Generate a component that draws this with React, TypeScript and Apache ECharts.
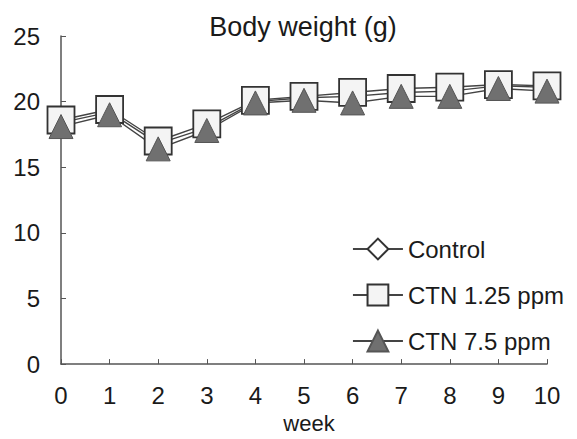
import React, { useEffect, useRef } from "react";
import * as echarts from "echarts";

const weeks = [0, 1, 2, 3, 4, 5, 6, 7, 8, 9, 10];
const control = [18.4, 19.2, 16.8, 18.0, 20.0, 20.3, 20.4, 20.7, 20.8, 21.2, 21.1];
const ctn125 = [18.6, 19.4, 17.0, 18.3, 20.1, 20.4, 20.7, 21.0, 21.1, 21.3, 21.2];
const ctn75 = [18.1, 19.0, 16.4, 17.8, 19.9, 20.1, 19.9, 20.4, 20.4, 21.0, 20.8];
const seriesNames = ["Control", "CTN 1.25 ppm", "CTN 7.5 ppm"];

export default function App() {
  const ref = useRef<HTMLDivElement>(null);
  useEffect(() => {
    const chart = echarts.init(ref.current!, null, { renderer: "svg" });
    const font = "'Liberation Sans', Arial, sans-serif";
    const mk = (vals: number[]) => weeks.map((w, i) => [w, vals[i]]);
    chart.setOption({
      animation: false,
      backgroundColor: "#fff",
      textStyle: { fontFamily: font },
      title: {
        text: "Body weight (g)",
        left: 298,
        top: 8,
        textAlign: "center",
        textStyle: { fontSize: 27, fontWeight: "normal", color: "#1a1a1a", fontFamily: font },
      },
      grid: { left: 61, right: 30, top: 36, bottom: 70, containLabel: false },
      legend: {
        orient: "vertical",
        right: 8,
        top: 232,
        itemWidth: 50,
        itemHeight: 26,
        itemGap: 22,
        textStyle: { fontSize: 24, color: "#1a1a1a", fontFamily: font },
        data: seriesNames,
      },
      xAxis: {
        type: "value",
        min: 0,
        max: 10,
        interval: 1,
        name: "week",
        nameLocation: "middle",
        nameGap: 47,
        nameTextStyle: { fontSize: 22, color: "#1a1a1a", fontFamily: font, padding: [0, 0, 0, 10] },
        axisLine: { lineStyle: { color: "#555", width: 1.5 } },
        axisTick: { inside: true, length: 5, lineStyle: { color: "#555" } },
        axisLabel: { fontSize: 24, color: "#1a1a1a", margin: 19, fontFamily: font },
        splitLine: { show: false },
      },
      yAxis: {
        type: "value",
        min: 0,
        max: 25,
        interval: 5,
        axisLine: { show: true, lineStyle: { color: "#555", width: 1.5 } },
        axisTick: { show: true, inside: true, length: 5, lineStyle: { color: "#555" } },
        axisLabel: { fontSize: 24, color: "#1a1a1a", margin: 21, fontFamily: font },
        splitLine: { show: false },
      },
      series: [
        {
          name: seriesNames[0],
          type: "line",
          data: mk(control),
          symbol: "diamond",
          symbolSize: 24,
          lineStyle: { color: "#444", width: 1.4 },
          itemStyle: { color: "#fff", borderColor: "#333", borderWidth: 1.5 },
        },
        {
          name: seriesNames[1],
          type: "line",
          data: mk(ctn125),
          symbol: "rect",
          symbolSize: 27,
          lineStyle: { color: "#444", width: 1.4 },
          itemStyle: { color: "#f4f4f4", borderColor: "#333", borderWidth: 1.8 },
        },
        {
          name: seriesNames[2],
          type: "line",
          data: mk(ctn75),
          symbol: "triangle",
          symbolSize: 24,
          lineStyle: { color: "#444", width: 1.4 },
          itemStyle: { color: "#707070", borderColor: "#555", borderWidth: 1 },
        },
      ],
    });
    return () => chart.dispose();
  }, []);
  return (
    <div
      ref={ref}
      style={{ position: "fixed", left: 0, top: 0, width: 577, height: 439 }}
    />
  );
}
